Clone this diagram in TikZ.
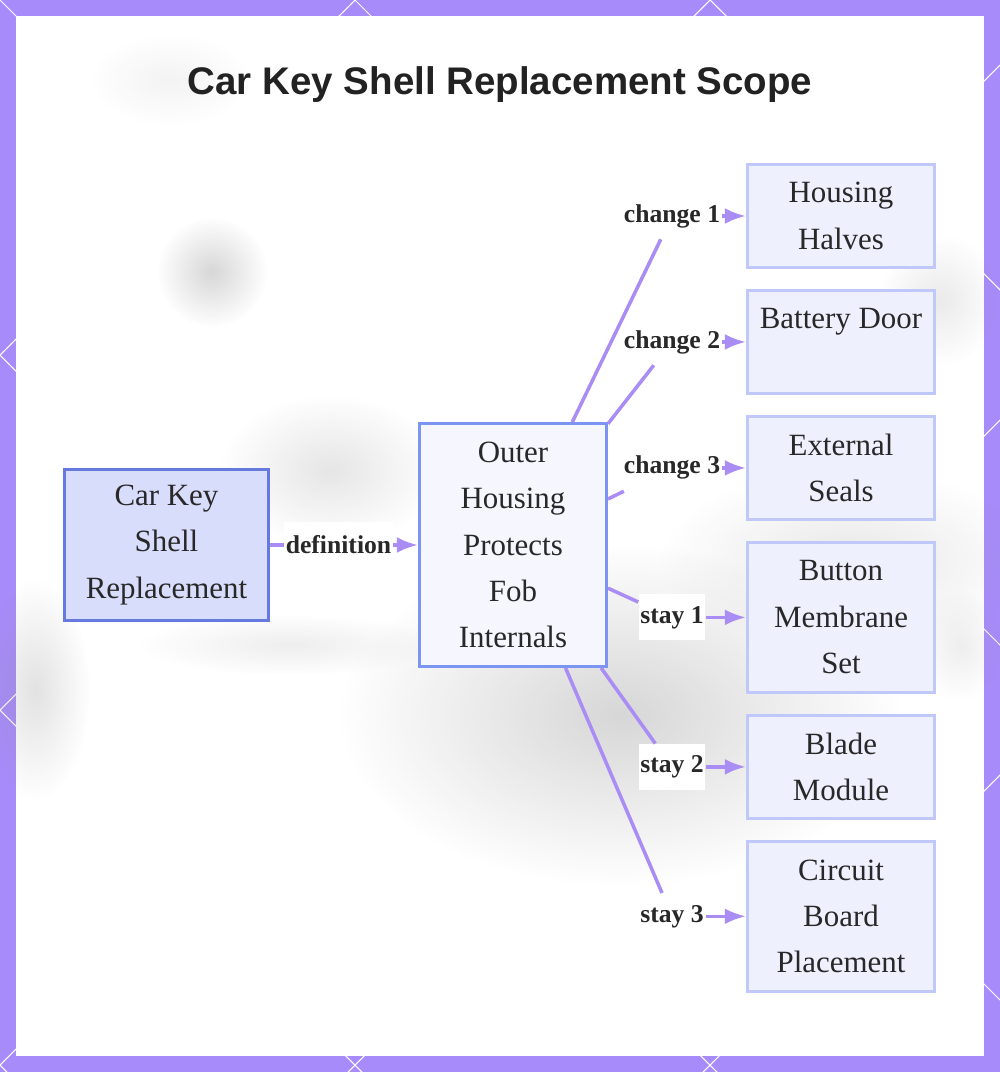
\documentclass[tikz,border=0pt]{standalone}
\usepackage{fontspec}
\setmainfont{Liberation Serif}
\newfontfamily\titlefont{Liberation Sans}
\usepackage{xcolor}
\usetikzlibrary{arrows.meta, positioning, fadings}
\definecolor{framepurple}{RGB}{167, 139, 250}
\definecolor{edgepurple}{RGB}{170, 140, 245}
\definecolor{rootfill}{RGB}{217, 221, 252}
\definecolor{rootdraw}{RGB}{102, 122, 222}
\definecolor{hubfill}{RGB}{245, 246, 254}
\definecolor{hubdraw}{RGB}{124, 148, 242}
\definecolor{partfill}{RGB}{238, 240, 254}
\definecolor{partdraw}{RGB}{192, 200, 250}
\definecolor{titlegray}{RGB}{34, 34, 34}
\definecolor{textgray}{RGB}{40, 40, 40}
\tikzfading[name=softblob, inner color=transparent!0, outer color=transparent!100]

\begin{document}
\begin{tikzpicture}[x=0.02cm, y=-0.02cm, >=Latex,
    box/.style={rectangle, line width=1.7pt, align=center, text=textgray, inner sep=0pt,
        font=\fontsize{17.6}{26.4}\selectfont},
    part/.style={box, draw=partdraw, fill=partfill, minimum width=3.74cm, minimum height=2.06cm},
    tallpart/.style={part, minimum height=3cm},
    lbl/.style={fill=white, text=textgray, inner xsep=1pt, minimum height=0.92cm,
        font=\fontsize{14.6}{17}\selectfont\bfseries},
    edge/.style={edgepurple, line width=2pt},
    blob/.style={black!45, opacity=0.3, path fading=softblob}]

    \useasboundingbox (0,0) rectangle (1000,1072);

    % Frame with lattice
    \fill[framepurple] (0,0) rectangle (1000,1072);
    \begin{scope}
        \clip (0,0) rectangle (1000,1072);
        \foreach \k in {-3,...,6} {
            \draw[white, line width=0.6pt] (355*\k,0) -- (355*\k-1072,1072);
            \draw[white, line width=0.6pt] (355*\k,0) -- (355*\k+1072,1072);
        }
    \end{scope}
    \fill[white] (16,16) rectangle (984,1056);

    % Faded photo behind
    \fill[blob, opacity=0.35] (212,272) circle (55);
    \fill[blob, opacity=0.1] (170,80) ellipse (80 and 45);
    \fill[blob, opacity=0.22] (330,470) ellipse (110 and 75);
    \fill[blob, opacity=0.35] (620,715) ellipse (280 and 170);
    \fill[blob, opacity=0.2] (850,560) ellipse (190 and 90);
    \fill[blob, opacity=0.15] (290,645) ellipse (150 and 30);
    \fill[blob, opacity=0.25] (35,690) ellipse (55 and 110);
    \fill[blob, opacity=0.18] (940,300) ellipse (60 and 65);
    \fill[blob, opacity=0.15] (960,645) ellipse (45 and 55);

    % Title
    \node[font=\titlefont\bfseries\fontsize{21.9}{26}\selectfont, text=titlegray] (title) at (500,85)
        {Car Key Shell Replacement Scope};

    % Main chain
    \node[box, draw=rootdraw, fill=rootfill, minimum width=4.08cm, minimum height=3.02cm] (root) at (166.5,545)
        {Car Key\\Shell\\Replacement};
    \node[box, draw=hubdraw, fill=hubfill, minimum width=3.74cm, minimum height=4.86cm] (hub) at (513,545)
        {Outer\\Housing\\Protects\\Fob\\Internals};
    \node[lbl] (def) at (338.5,545) {definition};
    \draw[edge] (root) -- (def);
    \draw[edge,->] (def) -- (hub);

    % Parts column
    \node[part] (halves) at (841,216) {Housing\\Halves};
    \node[part, below=0.4cm of halves] (door) {Battery Door\\\mbox{}};
    \node[part, below=0.4cm of door] (seals) {External\\Seals};
    \node[tallpart, below=0.4cm of seals] (membrane) {Button\\Membrane\\Set};
    \node[part, below=0.4cm of membrane] (blade) {Blade\\Module};
    \node[tallpart, below=0.4cm of blade] (board) {Circuit\\Board\\Placement};

    % Labels and connectors
    \coordinate (lblx) at (672,0);
    \node[lbl] (ch1) at (halves -| lblx) {change 1};
    \node[lbl] (ch2) at (door -| lblx) {change 2};
    \node[lbl] (ch3) at (seals -| lblx) {change 3};
    \node[lbl] (st1) at (membrane -| lblx) {stay 1};
    \node[lbl] (st2) at (blade -| lblx) {stay 2};
    \node[lbl] (st3) at (board -| lblx) {stay 3};

    \foreach \l/\p in {ch1/halves, ch2/door, ch3/seals, st1/membrane, st2/blade, st3/board} {
        \draw[edge] (hub) -- (\l);
        \draw[edge,->] (\l) -- (\p);
    }

\end{tikzpicture}
\end{document}
